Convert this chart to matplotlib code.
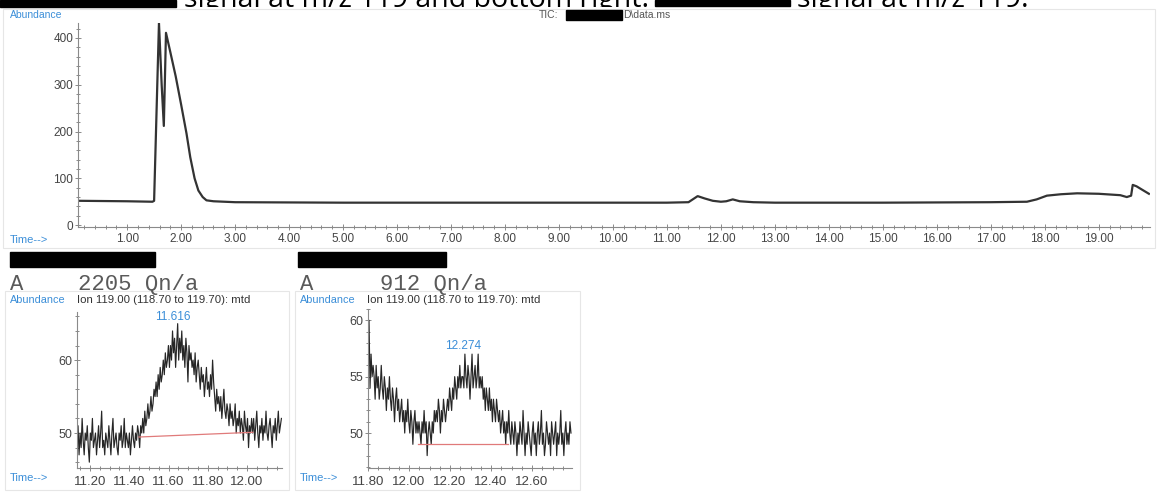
import matplotlib
matplotlib.use("Agg")
import matplotlib.pyplot as plt
import numpy as np
from matplotlib.patches import Rectangle
from matplotlib.ticker import MultipleLocator
from matplotlib.transforms import Bbox, TransformedBbox

W, H = 1158, 494
BLUE = "#3b8ed8"
AXIS = "#8a8a8a"
LABEL = "#444444"
SANS = ["Liberation Sans", "DejaVu Sans"]
MONO = ["Liberation Mono", "DejaVu Sans Mono"]

# ── Data ─────────────────────────────────────────────────────────────────────

# TIC trace: time (min) / abundance
tic_time = [0.10, 1.00, 1.47, 1.50, 1.59, 1.64, 1.68, 1.72, 1.80, 1.90, 2.00,
            2.10, 2.17, 2.25, 2.32, 2.40, 2.47, 2.60, 2.80, 3.00, 5.00, 8.00,
            11.00, 11.40, 11.57, 11.70, 11.85, 12.00, 12.10, 12.22, 12.35,
            12.60, 13.00, 15.00, 17.00, 17.67, 17.85, 18.04, 18.30, 18.60,
            19.00, 19.40, 19.52, 19.60, 19.63, 19.70, 19.80, 19.93]
tic_abund = [52, 51, 50, 52, 432, 300, 212, 411, 370, 318, 258,
             196, 145, 100, 74, 60, 53, 51, 50, 49, 48, 48,
             48, 49, 62, 57, 52, 50, 51, 55, 51,
             49, 48, 48, 49, 50, 55, 63, 66, 68,
             67, 64, 60, 63, 86, 83, 76, 67]

# extracted ion 119, left window
ion1_start, ion1_end = 11.134, 12.175
ion1_abund = [
    49, 51, 47, 50, 48, 52, 49, 47, 50, 49, 51, 48, 46, 50, 49, 52, 48, 49, 50, 47,
    49, 51, 48, 50, 53, 48, 49, 47, 50, 49, 48, 51, 49, 47, 50, 52, 48, 49, 50, 48,
    47, 50, 49, 51, 48, 49, 52, 48, 50, 49, 48, 50, 47, 49, 51, 49, 48, 50, 49, 51,
    50, 48, 51, 50, 52, 50, 53, 51, 52, 54, 52, 53, 55, 53, 54, 56,
    55, 57, 55, 58, 56, 59, 57, 58, 60, 58, 61, 59, 60, 62, 59,
    62, 60, 64, 61, 63, 59, 62, 65, 60, 63, 61, 64, 60, 62, 59, 63, 61, 57, 62, 60,
    61, 59, 60, 58, 61, 57, 59, 60, 58, 56, 59, 57, 58, 55, 57, 59, 56, 57, 55, 58,
    56, 60, 57, 55, 53, 56, 54, 55, 53, 55, 52, 54, 56, 53, 52, 54, 53, 51, 54, 52,
    53, 51, 52, 54, 50, 52, 51, 53, 50, 52, 51, 49, 53, 51, 50, 52, 48, 51, 50, 52,
    50, 52, 49, 51, 53, 50, 48, 51, 50, 52, 49, 51, 50, 53, 50, 49, 51, 52, 50, 48,
    51, 50, 52, 49, 51, 53, 50, 51, 52]
ion1_peak = "11.616"
ion1_base_t = [11.45, 12.03]
ion1_base_y = [49.45, 50.1]

# extracted ion 119, right window
ion2_start, ion2_end = 11.80, 12.79
ion2_abund = [
    56, 60, 54, 57, 55, 56,
    55, 53, 56, 54, 55, 53, 54, 56, 54, 53, 55, 54, 52, 54, 53, 55, 53, 52, 54, 53,
    51, 53, 54, 52,
    53, 51, 52, 53, 51, 52, 50, 52, 51, 53, 51, 50, 52, 51, 49, 51, 52, 50, 51, 50,
    51, 50, 49, 51, 50, 52, 50, 51, 48, 50, 51, 50, 49, 51, 50, 52, 51,
    52, 51, 53, 52, 50, 52, 51, 53, 52, 51, 52, 53,
    52, 54, 53, 52, 54, 53, 55, 54, 53, 55, 54, 56, 54, 55,
    55, 54, 57, 55, 54, 56, 55, 53, 55, 57, 54, 55, 56, 54, 55, 57, 54, 55, 54,
    55, 53, 54, 52, 54, 53, 52, 54, 52, 53, 51, 53, 52, 51, 53, 52,
    51, 52, 50, 51, 52, 50, 51, 49, 51, 50, 52, 50, 49, 51,
    50, 49, 51, 50, 48, 50, 49, 51, 50, 49, 52, 50, 48, 50, 49, 51, 50, 49, 48, 50,
    51, 49, 50, 48, 50, 51, 49, 50, 52, 49, 50, 48, 49, 51, 50, 49, 50, 48, 51, 50,
    49, 50, 51, 48, 50, 49, 50, 52, 49, 50, 48, 50, 51, 49, 50, 49, 51, 50]
ion2_peak = "12.274"
ion2_base_t = [12.045, 12.485]
ion2_base_y = [49.0, 49.0]


# ── Helpers (pixel coordinates of the 1158x494 picture) ──────────────────────

def fx(x):
    return x / W


def fy(y):
    return 1 - y / H


def add_axes_px(x0, y0, x1, y1):
    return fig.add_axes([fx(x0), fy(y1), (x1 - x0) / W, (y1 - y0) / H])


def style(ax):
    ax.set_facecolor("none")
    for s in ("top", "right"):
        ax.spines[s].set_visible(False)
    for s in ("left", "bottom"):
        ax.spines[s].set_color(AXIS)
        ax.spines[s].set_linewidth(0.8)
    ax.tick_params(which="both", colors=AXIS, labelcolor=LABEL, labelsize=8.5,
                   direction="inout", width=0.7)
    ax.tick_params(which="major", length=5, pad=2)
    ax.tick_params(which="minor", length=3)
    for lab in ax.get_xticklabels() + ax.get_yticklabels():
        lab.set_family(SANS)


def ptext(x, y, s, **kw):
    kw.setdefault("family", SANS)
    return fig.text(fx(x), fy(y), s, **kw)


def black_box(x0, y0, x1, y1):
    fig.patches.append(Rectangle((fx(x0), fy(y1)), (x1 - x0) / W, (y1 - y0) / H,
                                 transform=fig.transFigure, color="black", zorder=5))


def frame(x0, y0, x1, y1):
    fig.patches.append(Rectangle((fx(x0), fy(y1)), (x1 - x0) / W, (y1 - y0) / H,
                                 transform=fig.transFigure, fill=False,
                                 edgecolor="#e6e6e6", linewidth=0.8))


fig = plt.figure(figsize=(W / 100, H / 100), dpi=100)
fig.patch.set_facecolor("white")

# ── caption line, only a slice of it shows above the screenshot ─────────────
black_box(0, 0, 176, 7)
black_box(655, 0, 790, 6)
caption_clip = TransformedBbox(Bbox([[0, fy(7.5)], [1, 1]]), fig.transFigure)
for cx, cs in [(184, "signal at m/z 119 and bottom right:"), (797, "signal at m/z 119.")]:
    c = ptext(cx, 7, cs, fontsize=20.5, family=["Open Sans", "DejaVu Sans"],
              color="black", va="baseline")
    c.set_clip_box(caption_clip)
    c.set_clip_on(True)

# ── TIC panel ────────────────────────────────────────────────────────────────
frame(3, 9, 1155, 248)
ax = add_axes_px(78, 23, 1150, 227)
ax.plot(tic_time, tic_abund, color="#333333", lw=1.6, solid_joinstyle="round")
ax.set_xlim(0.09, 19.95)
ax.set_ylim(-4, 432)
ax.xaxis.set_minor_locator(MultipleLocator(0.2))
ax.yaxis.set_major_locator(MultipleLocator(100))
ax.yaxis.set_minor_locator(MultipleLocator(20))
ax.set_xticks(np.arange(1, 20))
ax.set_xticklabels([f"{v:.2f}" for v in range(1, 20)])
style(ax)
ax.tick_params(axis="y", pad=1)

ptext(10, 15, "Abundance", fontsize=7.5, color=BLUE, va="center")
ptext(10, 240, "Time-->", fontsize=8, color=BLUE, va="center")
ptext(539, 15, "TIC:", fontsize=7.5, color="#555555", va="center")
black_box(566, 10, 622, 20)
ptext(623, 15, "D\\data.ms", fontsize=7.5, color="#555555", va="center")

# ── ion panels ───────────────────────────────────────────────────────────────
black_box(10, 252, 155, 267)
black_box(298, 252, 446, 267)

panels = [
    dict(x0=0, frame=(5, 291, 289, 490), ax=(77, 312, 282, 468),
         head="2205 Qn/a", head_x=78, start=ion1_start, end=ion1_end,
         vals=ion1_abund, xlim=(11.134, 12.178), ylim=(45.2, 66.6),
         xticks=[11.2, 11.4, 11.6, 11.8, 12.0], yticks=[50, 60], yminor=2,
         peak=ion1_peak, peak_xy=(173, 317), bt=ion1_base_t, by=ion1_base_y),
    dict(x0=290, frame=(295, 291, 580, 490), ax=(368, 309, 572, 468),
         head="912 Qn/a", head_x=380, start=ion2_start, end=ion2_end,
         vals=ion2_abund, xlim=(11.80, 12.795), ylim=(46.9, 61.0),
         xticks=[11.8, 12.0, 12.2, 12.4, 12.6], yticks=[50, 55, 60], yminor=1,
         peak=ion2_peak, peak_xy=(463, 346), bt=ion2_base_t, by=ion2_base_y),
]

for p in panels:
    ox = p["x0"]
    frame(*p["frame"])
    ptext(ox + 10, 290, "A", fontsize=16, family=MONO, color="#5a5a5a", va="baseline")
    ptext(p["head_x"], 290, p["head"], fontsize=16, family=MONO, color="#5a5a5a",
          va="baseline")
    ptext(ox + 10, 300, "Abundance", fontsize=7.8, color=BLUE, va="center")
    ptext(ox + 77, 300, "Ion 119.00 (118.70 to 119.70): mtd", fontsize=8.2,
          color="#333333", va="center")
    ptext(ox + 10, 478, "Time-->", fontsize=8, color=BLUE, va="center")

    a = add_axes_px(*p["ax"])
    t = np.linspace(p["start"], p["end"], len(p["vals"]))
    a.plot(t, p["vals"], color="#262626", lw=0.85)
    a.plot(p["bt"], p["by"], color="#e07a7a", lw=0.9)
    a.set_xlim(*p["xlim"])
    a.set_ylim(*p["ylim"])
    a.set_xticks(p["xticks"])
    a.set_xticklabels([f"{v:.2f}" for v in p["xticks"]])
    a.xaxis.set_minor_locator(MultipleLocator(0.05))
    a.set_yticks(p["yticks"])
    a.yaxis.set_minor_locator(MultipleLocator(p["yminor"]))
    style(a)
    a.tick_params(axis="x", labelsize=9.5, pad=3)
    a.tick_params(axis="y", labelsize=9, pad=1)
    ptext(p["peak_xy"][0], p["peak_xy"][1], p["peak"], fontsize=8.5, color=BLUE,
          ha="center", va="center")

fig.savefig("out.png", dpi=100, facecolor="white")
